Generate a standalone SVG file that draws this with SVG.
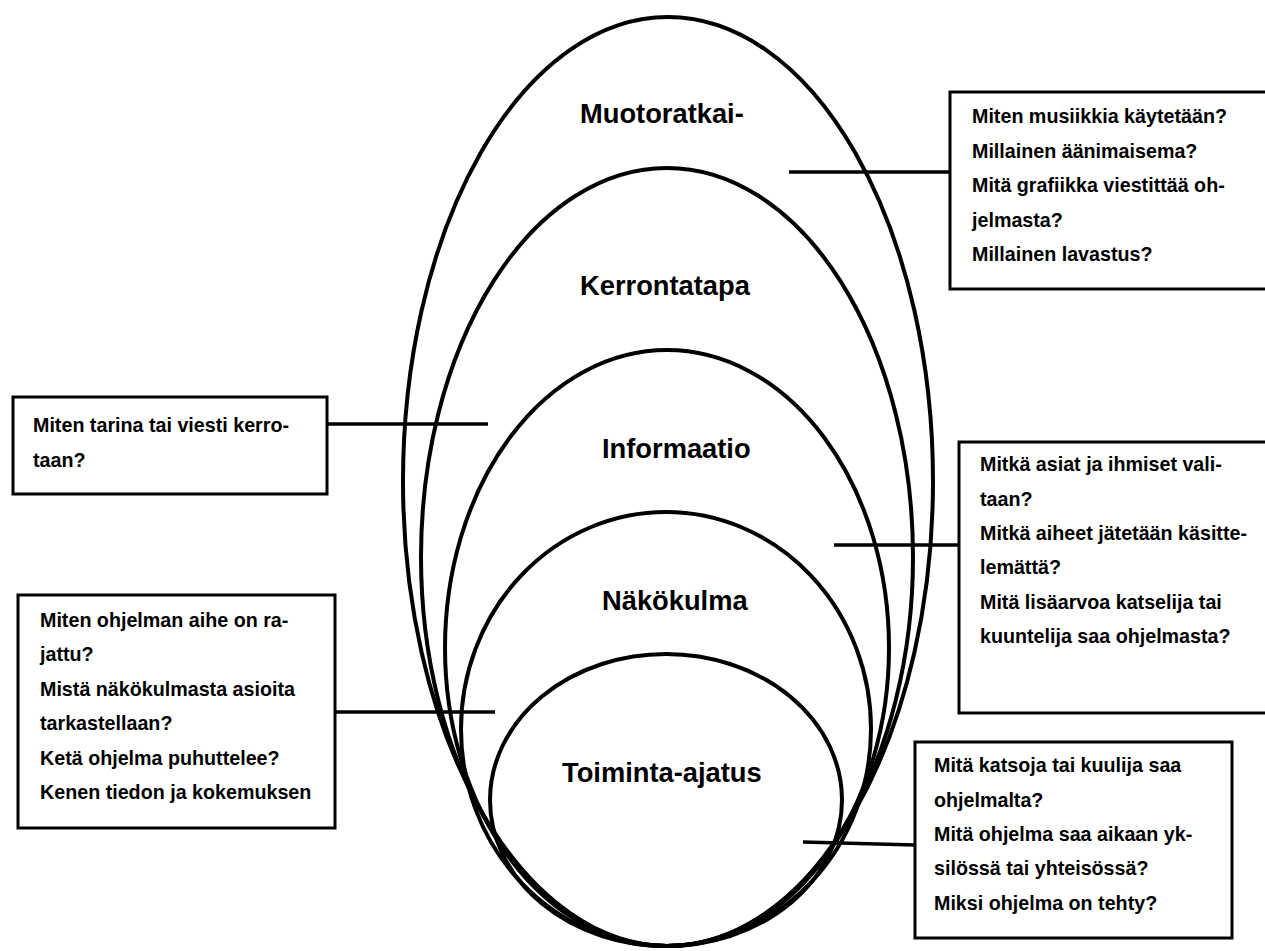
<svg xmlns="http://www.w3.org/2000/svg" width="1265" height="951" viewBox="0 0 1265 951">
<style>
.ell{fill:none;stroke:#000;stroke-width:4}
.box{fill:#fff;stroke:#000;stroke-width:3}
.con{stroke:#000;stroke-width:3.5;fill:none}
.lbl{font-family:"Liberation Sans",Arial,sans-serif;font-weight:bold;font-size:27.3px;fill:#000}
.txt{font-family:"Liberation Sans",Arial,sans-serif;font-weight:bold;font-size:19.7px;fill:#000}
</style>
<rect width="1265" height="951" fill="#fff"/>
<g id="ellipses">
<g id="muotoratkai"><ellipse class="ell" cx="668" cy="481.5" rx="265" ry="464.5"/><text class="lbl" x="580" y="123">Muotoratkai-</text></g>
<g id="kerrontatapa"><ellipse class="ell" cx="667" cy="557" rx="246" ry="389"/><text class="lbl" x="580" y="295">Kerrontatapa</text></g>
<g id="informaatio"><ellipse class="ell" cx="667" cy="648" rx="222" ry="298"/><text class="lbl" x="602" y="458">Informaatio</text></g>
<g id="nakokulma"><ellipse class="ell" cx="666" cy="729" rx="205" ry="217"/><text class="lbl" x="602" y="610">Näkökulma</text></g>
<g id="toiminta"><ellipse class="ell" cx="666" cy="800" rx="176" ry="146"/><text class="lbl" x="562" y="782">Toiminta-ajatus</text></g>
</g>
<g id="connectors">
<line class="con" x1="789" y1="172" x2="950" y2="172"/>
<line class="con" x1="327" y1="424" x2="488" y2="424"/>
<line class="con" x1="333" y1="712" x2="495" y2="712"/>
<line class="con" x1="834" y1="545" x2="959" y2="545"/>
<line class="con" x1="803" y1="842" x2="915" y2="845"/>
</g>
<g id="box-muoto">
<rect class="box" x="950" y="92" width="330" height="197"/>
<text class="txt" x="972" y="123">Miten musiikkia käytetään?</text>
<text class="txt" x="972" y="158">Millainen äänimaisema?</text>
<text class="txt" x="972" y="192">Mitä grafiikka viestittää oh-</text>
<text class="txt" x="972" y="227">jelmasta?</text>
<text class="txt" x="972" y="261">Millainen lavastus?</text>
</g>
<g id="box-kerronta">
<rect class="box" x="13" y="397" width="314" height="97"/>
<text class="txt" x="33" y="432">Miten tarina tai viesti kerro-</text>
<text class="txt" x="33" y="467">taan?</text>
</g>
<g id="box-nako">
<rect class="box" x="18" y="595" width="317" height="233"/>
<text class="txt" x="40" y="627">Miten ohjelman aihe on ra-</text>
<text class="txt" x="40" y="661">jattu?</text>
<text class="txt" x="40" y="696">Mistä näkökulmasta asioita</text>
<text class="txt" x="40" y="730">tarkastellaan?</text>
<text class="txt" x="40" y="765">Ketä ohjelma puhuttelee?</text>
<text class="txt" x="40" y="799">Kenen tiedon ja kokemuksen</text>
</g>
<g id="box-info">
<rect class="box" x="959" y="442" width="320" height="271"/>
<text class="txt" x="980" y="471">Mitkä asiat ja ihmiset vali-</text>
<text class="txt" x="980" y="506">taan?</text>
<text class="txt" x="980" y="540">Mitkä aiheet jätetään käsitte-</text>
<text class="txt" x="980" y="574">lemättä?</text>
<text class="txt" x="980" y="609">Mitä lisäarvoa katselija tai</text>
<text class="txt" x="980" y="643">kuuntelija saa ohjelmasta?</text>
</g>
<g id="box-toiminta">
<rect class="box" x="915" y="742" width="317" height="196"/>
<text class="txt" x="934" y="772">Mitä katsoja tai kuulija saa</text>
<text class="txt" x="934" y="807">ohjelmalta?</text>
<text class="txt" x="934" y="841">Mitä ohjelma saa aikaan yk-</text>
<text class="txt" x="934" y="875">silössä tai yhteisössä?</text>
<text class="txt" x="934" y="910">Miksi ohjelma on tehty?</text>
</g>
</svg>
